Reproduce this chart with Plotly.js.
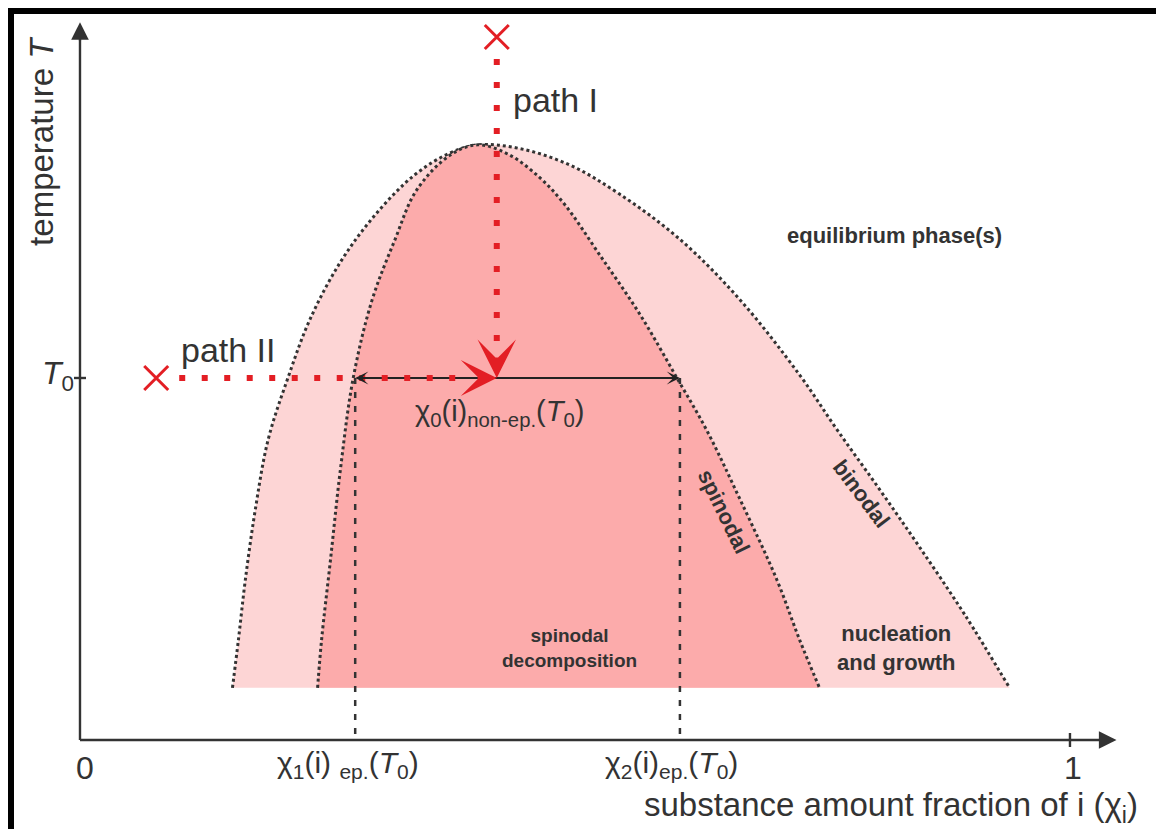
<!DOCTYPE html>
<html><head><meta charset="utf-8">
<script src="https://cdn.plot.ly/plotly-3.0.1.min.js"></script>
<style>html,body{margin:0;padding:0;background:#fff}#chart{width:1156px;height:829px}</style>
</head><body><div id="chart"></div>
<script>
// Binodal curve: substance amount fraction of i vs. temperature (T/T0)
const binodalX = [0.154,0.160,0.167,0.177,0.190,0.210,0.232,0.263,0.298,0.338,0.374,0.402,0.444,0.495,0.545,0.606,0.667,0.727,0.765,0.808,0.848,0.894,0.939];
const binodalY = [0.144,0.276,0.442,0.635,0.829,1.000,1.160,1.320,1.450,1.561,1.622,1.644,1.634,1.588,1.508,1.383,1.215,1.008,0.856,0.691,0.533,0.345,0.144];
// Spinodal curve
const spinodalX = [0.240,0.244,0.253,0.263,0.276,0.295,0.318,0.340,0.374,0.402,0.434,0.465,0.490,0.525,0.566,0.603,0.633,0.667,0.704,0.727,0.747];
const spinodalY = [0.144,0.276,0.497,0.746,1.000,1.215,1.381,1.519,1.616,1.644,1.616,1.552,1.478,1.340,1.174,1.000,0.856,0.663,0.442,0.276,0.144];
// Key values
const T0 = 1.0;
const chi0 = 0.421, chi1 = 0.278, chi2 = 0.606;
const pathIStartT = 1.942, pathIIStartX = 0.077;
const axisTopT = 1.983, axisEndX = 1.047;
const xTickVals = [0, 1];
const xTickText = ['0', '1'];

const W = 1156, H = 829;
const xr = [-0.0808, 1.0869], yr = [-0.2459, 2.0442];
const px = (xr[1]-xr[0])/W, py = (yr[1]-yr[0])/H;

const ink = '#333333', red = '#e31e24';
const light = '#fdd5d5', dark = '#fcabab';

const traces = [
  {x: binodalX, y: binodalY, mode:'lines', fill:'toself', fillcolor: light,
   line:{color: ink, width:3, dash:'3px,3px', shape:'spline', smoothing:1}, hoverinfo:'skip'},
  {x: spinodalX, y: spinodalY, mode:'lines', fill:'toself', fillcolor: dark,
   line:{color: ink, width:3, dash:'3px,3px', shape:'spline', smoothing:1}, hoverinfo:'skip'},
  // vertical dashed guides
  {x:[chi1, chi1], y:[T0, 0], mode:'lines', line:{color: ink, width:2.5, dash:'6px,8px'}, hoverinfo:'skip'},
  {x:[chi2, chi2], y:[T0, 0], mode:'lines', line:{color: ink, width:2.5, dash:'6px,8px'}, hoverinfo:'skip'},
  // axes lines
  {x:[0, 0], y:[0, axisTopT - 15*py], mode:'lines', line:{color: ink, width:2.4}, hoverinfo:'skip'},
  {x:[0, axisEndX - 15*px], y:[0, 0], mode:'lines', line:{color: ink, width:2.4}, hoverinfo:'skip'},
  // ticks
  {x:[xTickVals[1], xTickVals[1]], y:[-7*py, 7*py], mode:'lines', line:{color: ink, width:2.4}, hoverinfo:'skip'},
  {x:[-6*px, 6*px], y:[T0, T0], mode:'lines', line:{color: ink, width:2.4}, hoverinfo:'skip'},
  // black double arrow line
  {x:[chi1 + 8*px, chi2 - 8*px], y:[T0, T0], mode:'lines', line:{color: '#222', width:2}, hoverinfo:'skip'},
  // red dotted paths
  {x:[chi0, chi0], y:[pathIStartT - 22*py, T0 + 34*py], mode:'lines', line:{color: red, width:6, dash:'6px,17px'}, hoverinfo:'skip'},
  {x:[pathIIStartX + 23*px, chi0 - 36*px], y:[T0, T0], mode:'lines', line:{color: red, width:6, dash:'6px,16.5px'}, hoverinfo:'skip'},
  // start crosses
  {x:[chi0, pathIIStartX], y:[pathIStartT, T0], mode:'markers',
   marker:{symbol:'x-thin-open', size:24, color: red, line:{color: red, width:3}}, hoverinfo:'skip'}
];

function arrow(x, y, axv, ayv, color, size, width, head, extra) {
  return Object.assign({x:x, y:y, ax:axv, ay:ayv, xref:'x', yref:'y', text:'', showarrow:true,
    arrowhead: head, arrowsize: size, arrowwidth: width, arrowcolor: color, standoff:0, startstandoff:0}, extra||{});
}

const fam = 'Liberation Sans, Arial, sans-serif';
function label(x, y, text, size, extra) {
  return Object.assign({x:x, y:y, xref:'x', yref:'y', text:text, showarrow:false,
    font:{family: fam, size:size, color: ink}}, extra||{});
}

const annotations = [
  // axis arrowheads
  arrow(0, axisTopT, 0, 20, ink, 1.6, 2.2, 2),
  arrow(axisEndX, 0, -20, 0, ink, 1.6, 2.2, 2),
  // black double arrow heads
  arrow(chi1, T0, 14, 0, '#222', 1.1, 2, 3),
  arrow(chi2, T0, -14, 0, '#222', 1.1, 2, 3),
  // red arrowheads
  arrow(chi0, T0, -12, 0, red, 3, 2, 3),
  arrow(chi0, T0, 0, -12, red, 3.2, 2, 3),
  // texts
  label(-38*px, 1.655, 'temperature <i>T</i>', 33, {textangle:-90}),
  label(-4*px, T0 + 2*py, '<i>T</i><sub>0</sub>', 32, {xanchor:'right'}),
  label(xTickVals[0] + 5*px, -28*py, xTickText[0], 32),
  label(xTickVals[1] + 3*px, -28*py, xTickText[1], 32),
  label(1.0707, -0.1796 - 2*py, 'substance amount fraction of i (χ<sub>i</sub>)', 33, {xanchor:'right'}),
  label(chi1 - 7*px, -25*py, 'χ<sub>1</sub>(i) <sub>ep.</sub>(<i>T</i><sub>0</sub>)', 30),
  label(chi2 - 8*px, -25*py, 'χ<sub>2</sub>(i)<sub>ep.</sub>(<i>T</i><sub>0</sub>)', 30),
  label(chi0 + 3*px, T0 - 35*py, 'χ<sub>0</sub>(i)<sub>non-ep.</sub>(<i>T</i><sub>0</sub>)', 29),
  label(chi0 + 14*px, 1.768, 'path I', 34, {xanchor:'left'}),
  label(0.100, 1.077, 'path II', 34, {xanchor:'left'}),
  label(0.8232, 1.395, '<b>equilibrium phase(s)</b>', 22),
  label(0.6505, 0.632, '<b>spinodal</b>', 22, {textangle:64}),
  label(0.789, 0.680, '<b>binodal</b>', 22, {textangle:53}),
  label(0.494, 0.254, '<b>spinodal<br>decomposition</b>', 19),
  label(0.825, 0.254, '<b>nucleation<br>and growth</b>', 22)
];

const shapes = [
  {type:'rect', xref:'paper', yref:'paper', x0:8/W, x1:1, y0:1-14/H, y1:1-8/H, fillcolor:'#000', line:{width:0}},
  {type:'rect', xref:'paper', yref:'paper', x0:8/W, x1:14/W, y0:0, y1:1-8/H, fillcolor:'#000', line:{width:0}}
];

const layout = {
  width: W, height: H, margin:{l:0,r:0,t:0,b:0},
  paper_bgcolor:'#fff', plot_bgcolor:'#fff', showlegend:false,
  font:{family: fam, color: ink},
  xaxis:{range: xr, visible:false, fixedrange:true},
  yaxis:{range: yr, visible:false, fixedrange:true},
  annotations: annotations, shapes: shapes
};

Plotly.newPlot('chart', traces, layout, {staticPlot:true});
</script></body></html>
